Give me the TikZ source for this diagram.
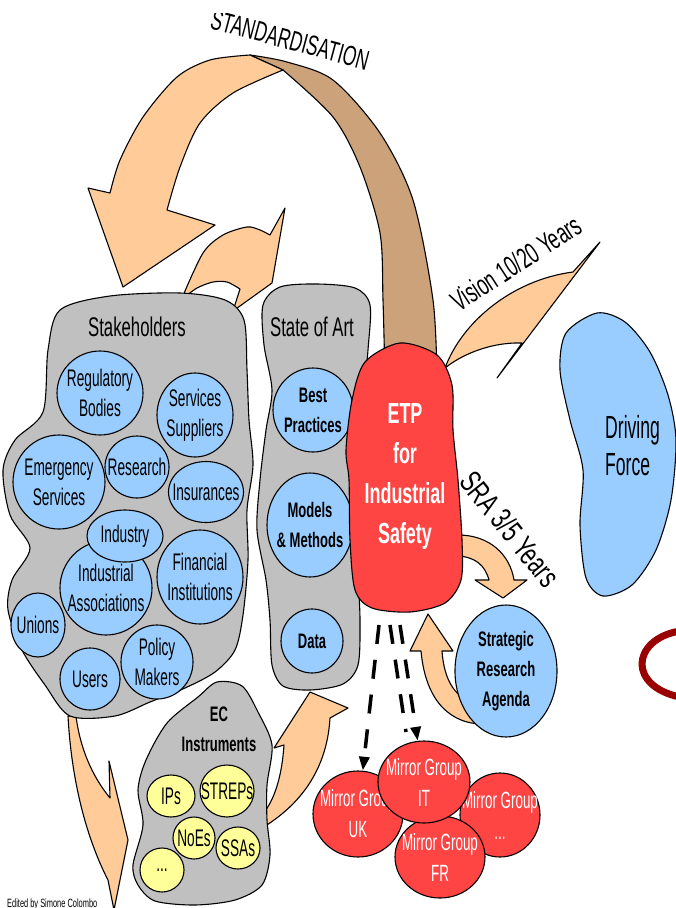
\documentclass[tikz,border=0pt]{standalone}
\usepackage{fontspec}
\setmainfont[FakeStretch=0.62]{Liberation Sans}
\newfontfamily\nfont[FakeStretch=0.57]{Liberation Sans}
\newfontfamily\dfont[FakeStretch=0.55]{Liberation Sans}
\newfontfamily\sfontw[FakeStretch=0.68]{Liberation Sans}
\usetikzlibrary{shapes.geometric,arrows.meta}
\definecolor{peach}{HTML}{FFCC99}
\definecolor{brownb}{HTML}{CCA27A}
\definecolor{grayb}{HTML}{C0C0C0}
\definecolor{blueb}{HTML}{99CCFF}
\definecolor{redb}{HTML}{FF4444}
\definecolor{yelb}{HTML}{FFFF99}
\definecolor{darkarc}{HTML}{990000}
\newcommand{\mkbub}[7]{%
  \node[#1, minimum width=#4pt, minimum height=#5pt] (#2) at #3 {};
  \node[#6] (#2-t) at (#2) {#7};}
\begin{document}
\begin{tikzpicture}[x=1pt,y=-1pt, line join=round,
  outl/.style={draw=black, line width=1.1pt},
  arrowshape/.style={outl, fill=peach},
  blob/.style={outl, fill=grayb},
  bc/.style={ellipse, outl, fill=blueb, inner sep=0pt},
  rc/.style={ellipse, outl, fill=redb, inner sep=0pt},
  yc/.style={ellipse, outl, fill=yelb, inner sep=0pt},
  ct/.style={align=center, inner sep=0pt, font=\nfont\fontsize{24}{30}\selectfont},
  cbt/.style={align=center, inner sep=0pt, font=\fontsize{21}{30}\selectfont\bfseries},
  wt/.style={align=center, inner sep=0pt, text=white, font=\nfont\fontsize{23.5}{31}\selectfont},
  title/.style={inner sep=0pt, font=\fontsize{27}{32}\selectfont},
  dasharrow/.style={line width=3.5pt, dash pattern=on 19pt off 16pt},
]
\useasboundingbox (0,0) rectangle (676,908);

% STANDARDISATION ribbon: back (brown) and front (peach)
\draw[outl, fill=brownb] plot[smooth] coordinates {(250,55) (287,62) (333,80) (380,133) (413,200) (433,300) (437,378)}
  -- plot[smooth] coordinates {(385,378) (383,300) (380,233) (360,167) (333,117) (283,70)} -- cycle;
\draw[arrowshape] plot[smooth] coordinates {(250,55) (210,60) (177,77) (143,117) (120,160) (110,193)}
  -- (88,188) -- (123,287) -- (215,225) -- (167,210)
  -- plot[smooth] coordinates {(167,210) (180,167) (200,123) (233,93) (283,70)} -- cycle;

% small arrow Stakeholders -> State of Art
\draw[arrowshape] plot[smooth] coordinates {(182,298) (203,253) (223,235) (247,227) (260,230) (270,235)}
  -- (285,208) -- (272,283) -- (233,311)
  -- plot[smooth] coordinates {(240,289) (227,282) (213,282) (197,288) (185,297)} -- cycle;

% arrow down from Stakeholders
\draw[arrowshape] (68,716) .. controls (72,790) and (90,845) .. (108,880) -- (114,910) -- (128,840) -- (109,761)
  -- (110,798) .. controls (92,776) and (80,748) .. (76,716) -- cycle;

% Stakeholders
\draw[blob] plot[smooth cycle] coordinates {(60,310) (110,296) (180,293) (225,300) (244,320) (247,370) (249,420) (253,465) (247,510) (248,560) (243,615) (235,650) (215,672) (185,688) (150,702) (115,716) (70,716) (45,685) (22,650) (8,610) (12,580) (30,548) (10,515) (3,470) (15,440) (43,412) (48,350)};
\node[title] (stk-t) at (137,327) {Stakeholders};
\mkbub{bc}{reg}{(100,393)}{86}{84}{ct}{Regulatory\\Bodies}
\mkbub{bc}{serv}{(195,415)}{76}{84}{ct}{Services\\Suppliers}
\mkbub{bc}{emer}{(59,482)}{92}{94}{ct}{Emergency\\Services}
\mkbub{bc}{res}{(137,467)}{64}{62}{ct}{Research}
\mkbub{bc}{ins}{(206,492)}{75}{61}{ct}{Insurances}
\mkbub{bc}{indas}{(106,588)}{92}{94}{ct}{Industrial\\Associations}
\mkbub{bc}{indu}{(125,536)}{76}{52}{ct}{Industry}
\mkbub{bc}{fin}{(200,577)}{86}{94}{ct}{Financial\\Institutions}
\mkbub{bc}{uni}{(38,625)}{54}{64}{ct}{Unions}
\mkbub{bc}{usr}{(90,679)}{60}{62}{ct}{Users}
\mkbub{bc}{pol}{(157,662)}{72}{74}{ct}{Policy\\Makers}

% State of Art
\draw[blob] plot[smooth cycle] coordinates {(317,284) (355,288) (370,305) (368,350) (362,420) (362,500) (358,560) (360,620) (358,665) (343,684) (310,690) (283,686) (272,665) (270,620) (266,580) (257,530) (260,480) (266,430) (272,390) (264,345) (263,305) (280,287)};
\node[title] (soa-t) at (312,327) {State of Art};
\mkbub{bc}{best}{(313,410)}{80}{84}{cbt}{Best\\Practices}
\mkbub{bc}{mod}{(310,525)}{86}{104}{cbt}{Models\\\& Methods}
\mkbub{bc}{data}{(312,641)}{62}{64}{cbt}{Data}

% Vision and SRA arrows
\draw[arrowshape] (445,368) .. controls (462,322) and (512,280) .. (573,272) -- (600,242) -- (497,378) -- (522,343)
  .. controls (495,342) and (465,352) .. (445,368) -- cycle;
\draw[arrowshape] (458,535) .. controls (490,535) and (510,555) .. (514,580) -- (527,580) -- (503,598) -- (475,580) -- (489,580)
  .. controls (485,565) and (475,557) .. (458,556) -- cycle;

% ETP
\draw[outl, fill=redb] plot[smooth cycle] coordinates {(400,343) (437,355) (452,385) (453,430) (458,480) (462,540) (461,580) (445,603) (410,612) (372,608) (355,590) (350,540) (349,480) (346,450) (352,400) (365,362)};
\node[align=center, inner sep=0pt, text=white, font=\fontsize{29}{40}\selectfont\bfseries] (etp-t) at (405,477) {ETP\\for\\Industrial\\Safety};

% Driving Force
\draw[outl, fill=blueb] plot[smooth cycle] coordinates {(597,313) (625,322) (650,352) (668,395) (676,440) (671,500) (656,550) (632,585) (603,596) (586,578) (580,525) (583,470) (570,420) (560,370) (566,333)};
\node[align=left, inner sep=0pt, anchor=west, font=\dfont\fontsize{32}{37}\selectfont] (df-t) at (605,446) {Driving\\Force};

% arrow SRA -> ETP and SRA
\draw[arrowshape] (428,614) -- (453,651) -- (442,651) .. controls (444,680) and (455,700) .. (480,705) -- (480,724)
  .. controls (445,722) and (425,695) .. (421,651) -- (410,651) -- cycle;
\mkbub{bc}{sra}{(506,671)}{102}{132}{cbt}{Strategic\\Research\\Agenda}

% arrow EC -> State of Art
\draw[arrowshape] (262,815) .. controls (275,800) and (282,775) .. (284,745) -- (274,748) -- (310,692) -- (348,708) -- (330,718)
  .. controls (327,770) and (300,805) .. (262,828) -- cycle;

% EC Instruments
\draw[blob] plot[smooth cycle] coordinates {(217,682) (242,686) (258,712) (272,745) (267,785) (267,820) (270,855) (262,885) (235,900) (195,905) (155,901) (138,885) (133,865) (143,825) (138,790) (146,760) (167,723) (198,697)};
\node[cbt] (ec-t) at (219,729) {EC\\Instruments};
\mkbub{yc}{ips}{(171,796)}{48}{42}{ct}{IPs}
\mkbub{yc}{streps}{(227,791)}{54}{52}{ct}{STREPs}
\mkbub{yc}{noes}{(194,838)}{42}{42}{ct}{NoEs}
\mkbub{yc}{ssas}{(238,848)}{44}{42}{ct}{SSAs}
\mkbub{yc}{ydots}{(162,870)}{44}{44}{ct}{...}

% Mirror groups
\mkbub{rc}{uk}{(358,814)}{90}{86}{wt}{Mirror Group\\UK}
\mkbub{rc}{mdots}{(500,815)}{80}{84}{wt}{Mirror Group\\...}
\mkbub{rc}{fr}{(440,857)}{90}{82}{wt}{Mirror Group\\FR}
\mkbub{rc}{it}{(424,782)}{92}{82}{wt}{Mirror Group\\IT}

% dashed connectors
\coordinate (ds1) at (379,625);
\coordinate (ds2) at (390,625);
\coordinate (ds3) at (400,625);
\coordinate (de2) at (406,732);
\draw[dasharrow, -{Triangle[length=14pt,width=10pt]}] (ds1) -- (uk);
\draw[dasharrow] (ds2) -- (de2);
\draw[dasharrow, -{Triangle[length=14pt,width=10pt]}] (ds3) -- (it);

% red arc at right edge
\draw[darkarc, line width=7pt] (680,631) .. controls (655,635) and (642,650) .. (642,664) .. controls (642,678) and (655,692) .. (680,697);

% labels
\node[inner sep=0pt, rotate=33, font=\fontsize{29}{32}\selectfont] (vis-t) at (516,263) {Vision 10/20 Years};
\node[inner sep=0pt, rotate=-51, font=\sfontw\fontsize{31}{34}\selectfont] (sra-lbl) at (510,529) {SRA 3/5 Years};
\begin{scope}
\clip (0,13) rectangle (676,908);
\node[inner sep=0pt, rotate=-15, font=\fontsize{28}{32}\selectfont] (std-t) at (290,40) {STANDARDISATION};
\end{scope}
\node[anchor=north west, inner sep=0pt, font=\fontsize{12}{14}\selectfont] (ed) at (7,899) {Edited by Simone Colombo};
\end{tikzpicture}
\end{document}
